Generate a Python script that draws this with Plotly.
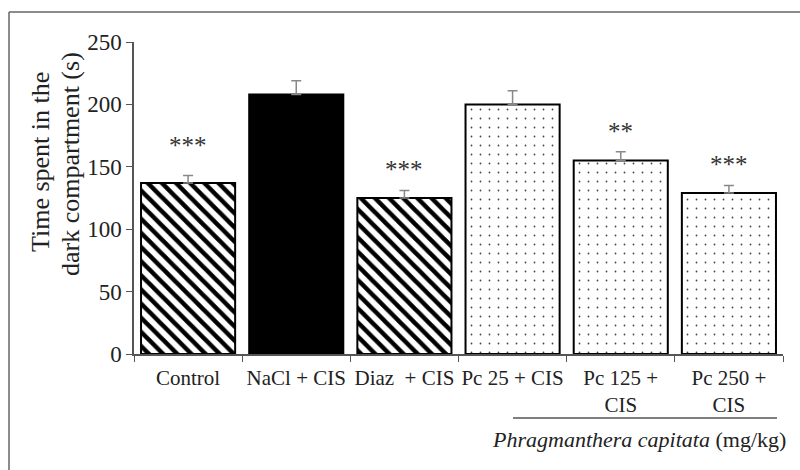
import plotly.graph_objects as go

categories = ["Control", "NaCl + CIS", "Diaz  + CIS", "Pc 25 + CIS", "Pc 125 +<br>CIS", "Pc 250 +<br>CIS"]
values = [137, 208, 125, 200, 155, 129]
errors = [6, 11, 6, 11, 7, 6]
stars = ["***", "", "***", "", "**", "***"]
star_shift = [30, 0, 21, 0, 20, 21]
y_ticks = [0, 50, 100, 150, 200, 250]
y_title_lines = ["Time spent in the", "dark compartment (s)"]

FONT = "Liberation Serif, Times New Roman, serif"

# plot area geometry in pixels
L, R, T, B = 134, 17, 42, 116
W, H = 800, 470
pw, ph = W - L - R, H - T - B

def px(x):
    return (x - L) / pw

def py(y):
    return (H - B - y) / ph

fig = go.Figure()

hatch = dict(shape="\\", bgcolor="white", fgcolor="black", size=10, solidity=0.45, fillmode="replace")
dots = dict(shape=".", bgcolor="white", fgcolor="#444444", size=9, solidity=0.03, fillmode="replace")
styles = [hatch, None, hatch, dots, dots, dots]

for i, (c, v, e) in enumerate(zip(categories, values, errors)):
    pat = styles[i]
    marker = dict(color="black" if pat is None else "white",
                  line=dict(color="black", width=2))
    if pat is not None:
        marker["pattern"] = pat
    fig.add_trace(go.Bar(
        x=[c], y=[v], marker=marker, width=0.87,
        error_y=dict(type="data", array=[e], arrayminus=[0], symmetric=False,
                     color="#888888", thickness=1.5, width=5),
        showlegend=False, hoverinfo="skip",
    ))

for c, v, e, s, sh in zip(categories, values, errors, stars, star_shift):
    if s:
        fig.add_annotation(x=c, y=v + e, text=s, showarrow=False, yanchor="middle",
                           xanchor="center", yshift=sh,
                           font=dict(family=FONT, size=25, color="#333333"))

fig.update_layout(
    width=W, height=H,
    margin=dict(l=L, r=R, t=T, b=B),
    paper_bgcolor="white", plot_bgcolor="white",
    barmode="overlay",
    font=dict(family=FONT, color="#222222"),
    xaxis=dict(type="category", categoryorder="array", categoryarray=categories,
               showline=True, linecolor="#555555", linewidth=1.5,
               ticks="outside", ticklen=6, tickcolor="#555555", tickson="boundaries",
               tickfont=dict(family=FONT, size=21, color="#222222"),
               tickangle=0, ticklabelstandoff=4,
               showgrid=False, zeroline=False, range=[-0.5, 5.5]),
    yaxis=dict(range=[0, 250], tickvals=y_ticks, showline=True, linecolor="#555555",
               linewidth=1.5, ticks="outside", ticklen=6, tickcolor="#555555",
               tickfont=dict(family=FONT, size=23, color="#222222"),
               showgrid=False, zeroline=False),
)

# y-axis title (two rotated lines)
for line_text, xc, yc in zip(y_title_lines, [40, 70], [162, 164]):
    fig.add_annotation(xref="paper", yref="paper", x=px(xc), y=py(yc),
                       xanchor="center", yanchor="middle",
                       text=line_text, textangle=-90,
                       showarrow=False, font=dict(family=FONT, size=26, color="#222222"))

# group line and label
fig.add_shape(type="line", xref="paper", yref="paper", x0=px(513), x1=px(777),
              y0=py(418), y1=py(418), line=dict(color="#555555", width=1.5))
fig.add_annotation(xref="paper", yref="paper", x=px(639), y=py(439),
                   xanchor="center", yanchor="middle",
                   text="<i>Phragmanthera capitata</i> (mg/kg)", showarrow=False,
                   font=dict(family=FONT, size=22, color="#222222"))

# outer frame (top and left edges)
fig.add_shape(type="line", xref="paper", yref="paper", x0=px(9), x1=px(805),
              y0=py(12), y1=py(12), line=dict(color="#666666", width=1.5))
fig.add_shape(type="line", xref="paper", yref="paper", x0=px(9), x1=px(9),
              y0=py(12), y1=py(475), line=dict(color="#666666", width=1.5))

fig.write_html("out.html", config={"displayModeBar": False},
               post_script="document.body.style.margin='0';")
